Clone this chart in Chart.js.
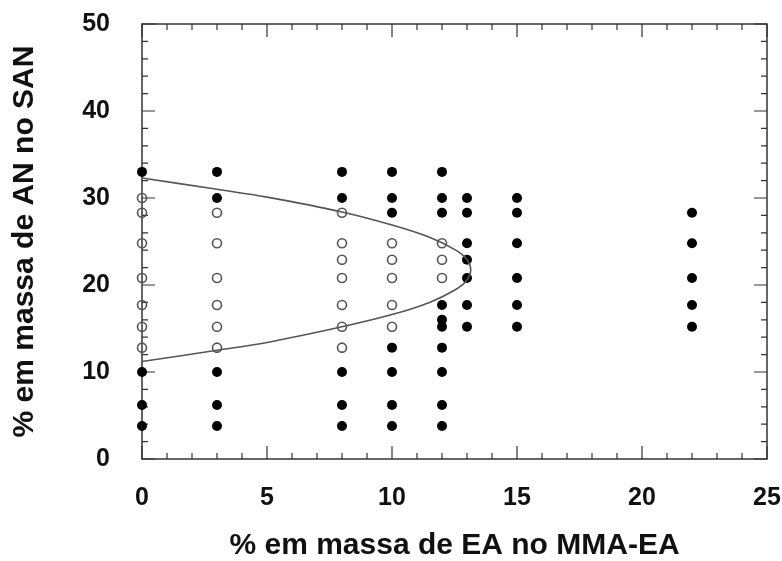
<!DOCTYPE html>
<html lang="pt">
<head>
    <meta charset="UTF-8">
    <title>% em massa de AN no SAN</title>
    <script src="https://cdn.jsdelivr.net/npm/chart.js"></script>
    <style>
        body { margin: 0; background: #fff; }
        canvas { display: block; }
    </style>
</head>
<body>
    <canvas id="grafico" width="782" height="561"></canvas>

    <script>
        // pontos cheios (fase separada)
        let filledX = [0, 0, 0, 0,
                       3, 3, 3, 3, 3,
                       8, 8, 8, 8, 8,
                       10, 10, 10, 10, 10, 10, 10,
                       12, 12, 12, 12, 12, 12, 12, 12, 12, 12,
                       13, 13, 13, 13, 13, 13, 13,
                       15, 15, 15, 15, 15, 15,
                       22, 22, 22, 22, 22];
        let filledY = [33, 10, 6.2, 3.8,
                       33, 30, 10, 6.2, 3.8,
                       33, 30, 10, 6.2, 3.8,
                       33, 30, 28.3, 12.8, 10, 6.2, 3.8,
                       33, 30, 28.3, 17.7, 16, 15.2, 12.8, 10, 6.2, 3.8,
                       30, 28.3, 24.8, 22.9, 20.8, 17.7, 15.2,
                       30, 28.3, 24.8, 20.8, 17.7, 15.2,
                       28.3, 24.8, 20.8, 17.7, 15.2];

        // pontos vazios (miscivel)
        let openX = [0, 0, 0, 0, 0, 0, 0,
                     3, 3, 3, 3, 3, 3,
                     8, 8, 8, 8, 8, 8, 8,
                     10, 10, 10, 10, 10,
                     12, 12, 12];
        let openY = [30, 28.3, 24.8, 20.8, 17.7, 15.2, 12.8,
                     28.3, 24.8, 20.8, 17.7, 15.2, 12.8,
                     28.3, 24.8, 22.9, 20.8, 17.7, 15.2, 12.8,
                     24.8, 22.9, 20.8, 17.7, 15.2,
                     24.8, 22.9, 20.8];

        // curva limite
        let curveX = [0, 3, 5, 8, 10, 11.5, 12.5, 12.95, 13.15, 12.95, 12.5, 11.5, 10, 8, 5, 3, 0];
        let curveY = [32.3, 31.0, 30.1, 28.4, 26.9, 25.5, 24.1, 23.1, 21.75, 20.4, 19.4, 18.0, 16.6, 15.2, 13.4, 12.5, 11.2];

        let xTicks = [0, 5, 10, 15, 20, 25];
        let yTicks = [0, 10, 20, 30, 40, 50];

        function pares(xs, ys) {
            return xs.map((x, i) => ({ x: x, y: ys[i] }));
        }

        // moldura e marcas de escala para dentro
        const moldura = {
            id: "moldura",
            beforeDatasetsDraw(chart) {
                const { ctx, chartArea: a, scales: { x, y } } = chart;
                ctx.save();
                ctx.strokeStyle = "#333";
                ctx.lineWidth = 1.5;
                ctx.strokeRect(a.left, a.top, a.right - a.left, a.bottom - a.top);
                ctx.lineWidth = 1.2;
                ctx.beginPath();
                for (let v = 0; v <= 25; v++) {
                    const px = x.getPixelForValue(v);
                    const len = v % 5 === 0 ? 13 : 6;
                    ctx.moveTo(px, a.bottom); ctx.lineTo(px, a.bottom - len);
                    ctx.moveTo(px, a.top); ctx.lineTo(px, a.top + len);
                }
                for (let v = 0; v <= 50; v += 2) {
                    const py = y.getPixelForValue(v);
                    const len = v % 10 === 0 ? 13 : 6;
                    ctx.moveTo(a.left, py); ctx.lineTo(a.left + len, py);
                    ctx.moveTo(a.right, py); ctx.lineTo(a.right - len, py);
                }
                ctx.stroke();
                ctx.restore();
            }
        };

        let ctx = document.getElementById("grafico").getContext("2d");

        let chart = new Chart(ctx, {
            type: "scatter",
            data: {
                datasets: [
                    {
                        label: "curva",
                        data: pares(curveX, curveY),
                        showLine: true,
                        tension: 0.35,
                        borderColor: "#555",
                        borderWidth: 1.6,
                        pointRadius: 0,
                        fill: false,
                        clip: false
                    },
                    {
                        label: "miscível",
                        data: pares(openX, openY),
                        pointRadius: 4.5,
                        pointBorderWidth: 1.6,
                        pointBorderColor: "#555",
                        pointBackgroundColor: "rgba(0,0,0,0)",
                        clip: false
                    },
                    {
                        label: "imiscível",
                        data: pares(filledX, filledY),
                        pointRadius: 5,
                        pointBorderWidth: 0,
                        pointBackgroundColor: "#000",
                        clip: false
                    }
                ]
            },
            options: {
                responsive: false,
                animation: false,
                layout: { padding: { top: 24, right: 15, left: 0, bottom: 0 } },
                plugins: {
                    legend: { display: false },
                    tooltip: { enabled: false }
                },
                scales: {
                    x: {
                        type: "linear",
                        min: 0,
                        max: 25,
                        afterFit: s => { s.height = 102; s.paddingLeft = 0; s.paddingRight = 0; },
                        afterBuildTicks: s => { s.ticks = xTicks.map(v => ({ value: v })); },
                        grid: { display: false, drawTicks: false },
                        border: { display: false },
                        ticks: {
                            padding: 24,
                            color: "#111",
                            maxRotation: 0,
                            font: { family: "Liberation Sans, Arial, sans-serif", size: 25, weight: "bold" }
                        },
                        title: {
                            display: true,
                            text: "% em massa de EA no MMA-EA",
                            color: "#111",
                            padding: { top: 0, bottom: 0 },
                            font: { family: "Liberation Sans, Arial, sans-serif", size: 30, weight: "bold", lineHeight: 1 }
                        }
                    },
                    y: {
                        type: "linear",
                        min: 0,
                        max: 50,
                        afterFit: s => { s.width = 142; s.paddingTop = 0; s.paddingBottom = 0; },
                        afterBuildTicks: s => { s.ticks = yTicks.map(v => ({ value: v })); },
                        grid: { display: false, drawTicks: false },
                        border: { display: false },
                        ticks: {
                            padding: 32,
                            color: "#111",
                            font: { family: "Liberation Sans, Arial, sans-serif", size: 25, weight: "bold" }
                        },
                        title: {
                            display: true,
                            text: "% em massa de AN no SAN",
                            color: "#111",
                            padding: { top: 10, bottom: 0 },
                            font: { family: "Liberation Sans, Arial, sans-serif", size: 30, weight: "bold", lineHeight: 1 }
                        }
                    }
                }
            },
            plugins: [moldura]
        });
    </script>
</body>
</html>
